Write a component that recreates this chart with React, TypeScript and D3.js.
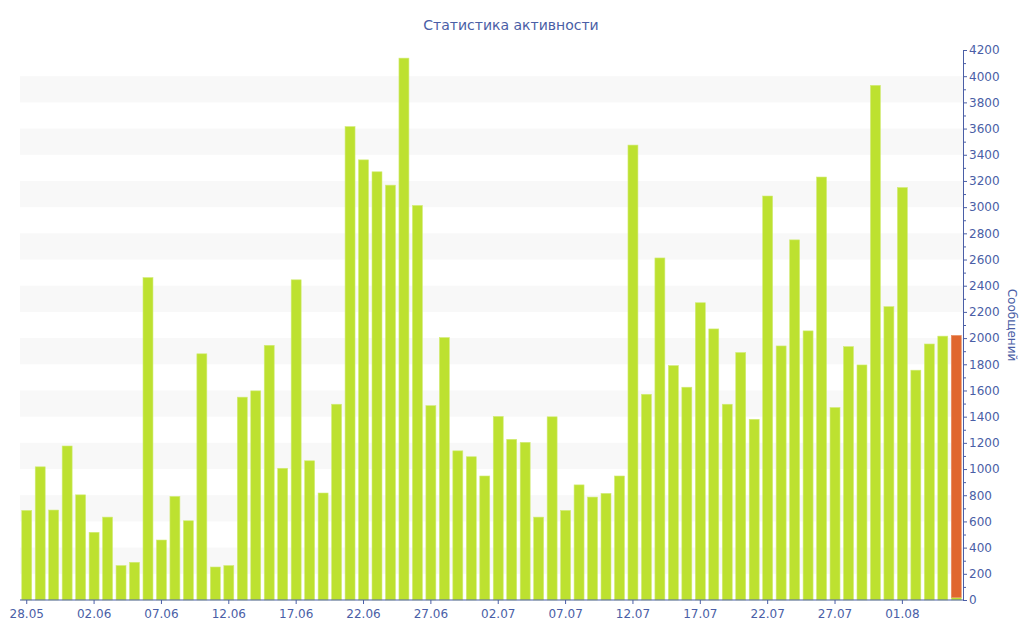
import React, { useEffect, useRef } from "react";
import * as d3 from "d3";

// daily message counts, 28.05 .. 05.08
const messages = [
  684, 1017, 687, 1176, 803, 517, 633, 263, 288, 2462,
  458, 791, 605, 1880, 252, 263, 1549, 1597, 1945, 1006,
  2445, 1063, 817, 1495, 3615, 3361, 3270, 3168, 4138, 3013,
  1484, 2004, 1139, 1094, 947, 1402, 1227, 1204, 633, 1399,
  684, 879, 786, 814, 947, 3474, 1571, 2612, 1790, 1625,
  2270, 2070, 1495, 1890, 1380, 3085, 1940, 2750, 2055, 3230,
  1470, 1935, 1795, 3930, 2240, 3150, 1755, 1955, 2015, 20,
];
// today's partial count stacked on the last bar
const todayExtra = [
  0, 0, 0, 0, 0, 0, 0, 0, 0, 0,
  0, 0, 0, 0, 0, 0, 0, 0, 0, 0,
  0, 0, 0, 0, 0, 0, 0, 0, 0, 0,
  0, 0, 0, 0, 0, 0, 0, 0, 0, 0,
  0, 0, 0, 0, 0, 0, 0, 0, 0, 0,
  0, 0, 0, 0, 0, 0, 0, 0, 0, 0,
  0, 0, 0, 0, 0, 0, 0, 0, 0, 2000,
];
const startDay = new Date(2013, 4, 28);
const xTickLabels = ["28.05", "02.06", "07.06", "12.06", "17.06", "22.06", "27.06", "02.07", "07.07", "12.07", "17.07", "22.07", "27.07", "01.08"];
const yTicks = d3.range(0, 4201, 200);

const W = 1024;
const H = 640;
const AXIS = "#4a5ea6";

export default function App() {
  const svgRef = useRef<SVGSVGElement | null>(null);

  useEffect(() => {
    if (!svgRef.current) return;
    const svg = d3.select(svgRef.current);
    svg.selectAll("*").remove();

    const left = 20, right = 963, top = 50, bottom = 600;
    const fmt = d3.timeFormat("%d.%m");
    const days = messages.map((_, i) => fmt(d3.timeDay.offset(startDay, i)));

    const x = d3.scaleBand<string>().domain(days).range([left, right]).paddingInner(0.26).paddingOuter(0.13);
    const y = d3.scaleLinear().domain([0, 4200]).range([bottom, top]);

    // alternating bands
    const bands = d3.range(200, 4200, 400);
    svg.append("g")
      .selectAll("rect")
      .data(bands)
      .join("rect")
      .attr("x", left)
      .attr("width", right - left)
      .attr("y", (d) => y(d + 200))
      .attr("height", (d) => y(d) - y(d + 200))
      .attr("fill", "#f8f8f8");

    const stacked = d3.stack<number>().keys(["a", "b"]).value((i, k) => (k === "a" ? messages[i] : todayExtra[i]))(d3.range(messages.length));
    const colors = ["#bde130", "#e0672f"];

    stacked.forEach((layer, li) => {
      svg.append("g")
        .selectAll("rect")
        .data(layer.filter((d) => d[1] > d[0]))
        .join("rect")
        .attr("x", (d) => x(days[d.data])!)
        .attr("width", x.bandwidth())
        .attr("y", (d) => y(d[1]))
        .attr("height", (d) => y(d[0]) - y(d[1]))
        .attr("fill", colors[li])
        .attr("stroke", li === 0 ? "#d2ec78" : "#e88a5c")
        .attr("stroke-width", 0.6);
    });

    // x axis
    const xAxis = svg.append("g")
      .attr("transform", `translate(0,${bottom})`)
      .call(d3.axisBottom(x).tickValues(xTickLabels).tickSize(4).tickSizeOuter(0));
    xAxis.select(".domain").attr("stroke", AXIS).attr("d", `M${left},0H${right}`);
    xAxis.selectAll(".tick line").attr("stroke", AXIS);
    xAxis.selectAll(".tick text")
      .attr("fill", AXIS)
      .attr("dy", "0.95em")
      .style("font-family", "DejaVu Sans")
      .style("font-size", "12px");

    // right y axis with minor ticks
    svg.append("g")
      .attr("transform", `translate(${right},0)`)
      .call(d3.axisRight(y).tickValues(d3.range(100, 4200, 200)).tickSize(3).tickFormat(() => ""))
      .call((g) => g.select(".domain").remove())
      .selectAll(".tick line").attr("stroke", AXIS);

    const yAxis = svg.append("g")
      .attr("transform", `translate(${right},0)`)
      .call(d3.axisRight(y).tickValues(yTicks).tickSize(4).tickSizeOuter(0).tickPadding(2).tickFormat(d3.format("d")));
    yAxis.select(".domain").attr("stroke", AXIS);
    yAxis.selectAll(".tick line").attr("stroke", AXIS);
    yAxis.selectAll(".tick text")
      .attr("fill", AXIS)
      .style("font-family", "DejaVu Sans")
      .style("font-size", "12px");

    svg.append("text")
      .attr("transform", `translate(1008,${(top + bottom) / 2}) rotate(90)`)
      .attr("text-anchor", "middle")
      .attr("fill", AXIS)
      .style("font-family", "DejaVu Sans")
      .style("font-size", "12px")
      .text("Сообщений");

    svg.append("text")
      .attr("x", 511)
      .attr("y", 30)
      .attr("text-anchor", "middle")
      .attr("fill", AXIS)
      .style("font-family", "DejaVu Sans")
      .style("font-size", "14px")
      .text("Статистика активности");
  }, []);

  return (
    <svg
      ref={svgRef}
      width={W}
      height={H}
      style={{ display: "block", position: "absolute", left: 0, top: 0, background: "#fff" }}
    />
  );
}
